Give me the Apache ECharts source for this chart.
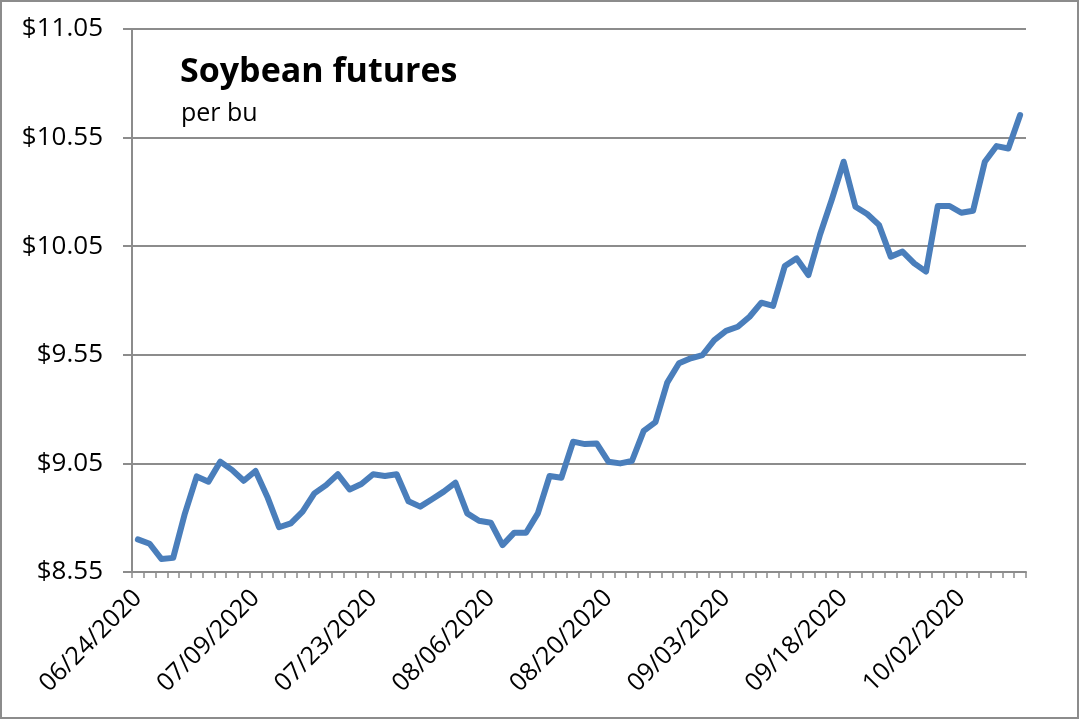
<!DOCTYPE html>
<html>
<head>
<meta charset="utf-8">
<script src="https://cdn.jsdelivr.net/npm/echarts@6/dist/echarts.min.js"></script>
<style>html,body{margin:0;padding:0;background:#fff}#c{width:1080px;height:720px}</style>
</head>
<body>
<div id="c"></div>
<script>
const dates = [
 "06/24/2020","06/25/2020","06/26/2020","06/29/2020","06/30/2020","07/01/2020","07/02/2020","07/06/2020","07/07/2020","07/08/2020",
 "07/09/2020","07/10/2020","07/13/2020","07/14/2020","07/15/2020","07/16/2020","07/17/2020","07/20/2020","07/21/2020","07/22/2020",
 "07/23/2020","07/24/2020","07/27/2020","07/28/2020","07/29/2020","07/30/2020","07/31/2020","08/03/2020","08/04/2020","08/05/2020",
 "08/06/2020","08/07/2020","08/10/2020","08/11/2020","08/12/2020","08/13/2020","08/14/2020","08/17/2020","08/18/2020","08/19/2020",
 "08/20/2020","08/21/2020","08/24/2020","08/25/2020","08/26/2020","08/27/2020","08/28/2020","08/31/2020","09/01/2020","09/02/2020",
 "09/03/2020","09/04/2020","09/08/2020","09/09/2020","09/10/2020","09/11/2020","09/14/2020","09/15/2020","09/16/2020","09/17/2020",
 "09/18/2020","09/21/2020","09/22/2020","09/23/2020","09/24/2020","09/25/2020","09/28/2020","09/29/2020","09/30/2020","10/01/2020",
 "10/02/2020","10/05/2020","10/06/2020","10/07/2020","10/08/2020","10/09/2020"
];
const prices = [
 8.70, 8.68, 8.61, 8.615, 8.82, 8.99, 8.966, 9.058, 9.02, 8.97,
 9.015, 8.897, 8.756, 8.774, 8.828, 8.912, 8.95, 9.00, 8.93, 8.955,
 9.00, 8.992, 9.00, 8.876, 8.851, 8.885, 8.92, 8.961, 8.82, 8.786,
 8.777, 8.674, 8.731, 8.731, 8.82, 8.992, 8.984, 9.15, 9.139, 9.142,
 9.058, 9.05, 9.061, 9.20, 9.24, 9.422, 9.511, 9.534, 9.549, 9.618,
 9.66, 9.679, 9.725, 9.79, 9.775, 9.959, 9.994, 9.917, 10.105, 10.266,
 10.439, 10.232, 10.198, 10.148, 10.002, 10.025, 9.971, 9.933, 10.235, 10.235,
 10.204, 10.213, 10.439, 10.511, 10.50, 10.654
];
const yMin = 8.55, yMax = 11.05, yStep = 0.5;
const titleText = "Soybean futures";
const subText = "per bu";

const chart = echarts.init(document.getElementById('c'), null, {renderer:'canvas'});
const FONT = '"Open Sans", sans-serif';
chart.setOption({
  animation: false,
  backgroundColor: '#fff',
  grid: {left: 132, right: 54, top: 29, bottom: 148, containLabel: false},
  title: [
    {text: titleText, left: 175, top: 50, textStyle: {fontFamily: FONT, fontWeight: 'bold', fontSize: 34, color: '#000'}},
    {text: subText, left: 176, top: 96, textStyle: {fontFamily: FONT, fontWeight: 'normal', fontSize: 25, color: '#000'}}
  ],
  xAxis: {
    type: 'category',
    data: dates,
    boundaryGap: true,
    axisLine: {lineStyle: {color: '#8c8c8c', width: 2}},
    axisTick: {show: true, interval: 0, length: 6, lineStyle: {color: '#8c8c8c', width: 1.5}},
    axisLabel: {interval: 9, rotate: 45, margin: 22, fontFamily: FONT, fontSize: 25, color: '#000'},
    splitLine: {show: false}
  },
  yAxis: {
    type: 'value',
    min: yMin, max: yMax, interval: yStep,
    axisLine: {show: true, lineStyle: {color: '#8c8c8c', width: 2}},
    axisTick: {show: true, length: 9, lineStyle: {color: '#8c8c8c', width: 2}},
    axisLabel: {margin: 29, fontFamily: FONT, fontSize: 26, color: '#000', formatter: v => '$' + v.toFixed(2)},
    splitLine: {show: true, lineStyle: {color: '#8c8c8c', width: 2}}
  },
  series: [{
    type: 'line',
    data: prices,
    symbol: 'none',
    lineStyle: {color: '#4a7ebb', width: 6, join: 'round', cap: 'round'},
    z: 5
  }],
  graphic: [{
    type: 'rect',
    shape: {x: 1, y: 1, width: 1077, height: 717},
    style: {fill: 'none', stroke: '#8c8c8c', lineWidth: 2},
    silent: true
  }]
});
</script>
</body>
</html>
